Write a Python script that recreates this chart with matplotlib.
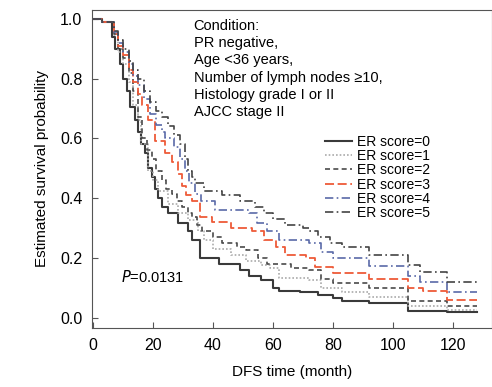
import matplotlib.pyplot as plt

t0 = [0, 3, 6.2, 7.3, 9, 10, 11.2, 12.3, 14, 15, 16, 17.3, 18.5, 19.6, 20.7, 21.7, 23, 25, 28.3, 31.7, 33, 35.7, 42, 49, 52, 56, 60, 62, 69, 75, 80, 83, 92, 105, 118, 128]
s0 = [1.0, 0.99, 0.94, 0.90, 0.85, 0.80, 0.76, 0.705, 0.66, 0.62, 0.58, 0.55, 0.50, 0.47, 0.43, 0.40, 0.37, 0.35, 0.315, 0.29, 0.26, 0.20, 0.18, 0.158, 0.14, 0.124, 0.10, 0.09, 0.085, 0.075, 0.065, 0.057, 0.047, 0.023, 0.018, 0.018]

t1 = [0, 3, 7, 8.5, 10, 12, 13.5, 15, 16, 18.3, 20, 21.7, 25, 28.3, 31.7, 35, 37, 40, 46, 51, 56, 59, 62, 72, 76, 83, 92, 105, 118, 128]
s1 = [1.0, 0.99, 0.945, 0.89, 0.85, 0.79, 0.71, 0.66, 0.58, 0.49, 0.46, 0.425, 0.38, 0.35, 0.325, 0.29, 0.26, 0.23, 0.21, 0.19, 0.175, 0.165, 0.134, 0.124, 0.10, 0.085, 0.068, 0.04, 0.026, 0.026]

t2 = [0, 3, 7, 8.5, 10, 12, 13.5, 15, 16.3, 18, 19.6, 21, 23, 24.5, 26.3, 28, 29.7, 31.5, 33, 34.5, 36.3, 40, 43, 48, 51, 55, 58, 66, 72, 76, 80, 83, 92, 105, 118, 128]
s2 = [1.0, 0.99, 0.95, 0.90, 0.87, 0.82, 0.76, 0.67, 0.60, 0.56, 0.53, 0.49, 0.46, 0.43, 0.415, 0.39, 0.37, 0.35, 0.335, 0.31, 0.29, 0.27, 0.25, 0.235, 0.225, 0.20, 0.18, 0.165, 0.158, 0.13, 0.117, 0.114, 0.10, 0.057, 0.04, 0.04]

t3 = [0, 3, 7, 8.5, 10, 12, 13.5, 15, 16.5, 18.3, 20.7, 24, 26.3, 28.3, 29.6, 31, 33, 35.7, 39.7, 46, 53, 57, 61, 64, 71, 74, 80, 92, 105, 110, 118, 128]
s3 = [1.0, 0.99, 0.95, 0.91, 0.88, 0.83, 0.79, 0.75, 0.71, 0.66, 0.59, 0.55, 0.52, 0.48, 0.44, 0.41, 0.39, 0.335, 0.32, 0.30, 0.29, 0.26, 0.235, 0.21, 0.20, 0.17, 0.148, 0.13, 0.10, 0.088, 0.059, 0.059]

t4 = [0, 3, 7, 8.5, 10, 12, 13.5, 15, 17, 19, 21, 23, 24, 27, 29, 30.5, 32, 34, 36, 40.7, 52, 54.7, 58, 62, 72, 76, 80, 92, 105, 109, 118, 128]
s4 = [1.0, 0.99, 0.955, 0.92, 0.89, 0.85, 0.81, 0.78, 0.73, 0.68, 0.645, 0.62, 0.60, 0.57, 0.53, 0.49, 0.45, 0.415, 0.39, 0.36, 0.35, 0.315, 0.29, 0.26, 0.25, 0.22, 0.198, 0.172, 0.14, 0.118, 0.085, 0.085]

t5 = [0, 3, 7, 8.5, 10, 12, 13.5, 15, 17, 19, 21, 23, 25, 27, 29, 30.5, 31.7, 33, 34, 37, 43, 49, 54, 57, 60, 64, 70, 72, 75, 79, 83, 92, 105, 109, 118, 128]
s5 = [1.0, 0.99, 0.96, 0.93, 0.90, 0.86, 0.83, 0.80, 0.76, 0.72, 0.69, 0.67, 0.64, 0.61, 0.58, 0.53, 0.49, 0.47, 0.45, 0.425, 0.41, 0.39, 0.37, 0.35, 0.33, 0.31, 0.30, 0.29, 0.27, 0.25, 0.235, 0.21, 0.175, 0.152, 0.118, 0.118]

labels = ['ER score=0', 'ER score=1', 'ER score=2', 'ER score=3', 'ER score=4', 'ER score=5']

plt.rcParams['font.family'] = ['Liberation Sans', 'DejaVu Sans']
fig = plt.figure(figsize=(4.92, 3.87), dpi=100)
ax = fig.add_axes([0.187, 0.1525, 0.812, 0.822])

ax.plot(t0, s0, drawstyle='steps-post', color='#3a3a3a', lw=1.5, label=labels[0])
ax.plot(t1, s1, drawstyle='steps-post', color='#aaaaaa', lw=1.2, dashes=(1, 1.2), label=labels[1])
ax.plot(t2, s2, drawstyle='steps-post', color='#4a4a4a', lw=1.2, dashes=(3, 2), label=labels[2])
ax.plot(t3, s3, drawstyle='steps-post', color='#ee5a38', lw=1.3, dashes=(5, 2), label=labels[3])
ax.plot(t4, s4, drawstyle='steps-post', color='#5a6aa8', lw=1.2, dashes=(5, 2, 1, 2), label=labels[4])
ax.plot(t5, s5, drawstyle='steps-post', color='#444444', lw=1.2, dashes=(5, 2, 1, 2), label=labels[5])

ax.set_xlim(-0.3, 132.7)
ax.set_ylim(-0.035, 1.03)
ax.set_xticks([0, 20, 40, 60, 80, 100, 120])
ax.set_yticks([0.0, 0.2, 0.4, 0.6, 0.8, 1.0])
ax.set_yticklabels(['0.0', '0.2', '0.4', '0.6', '0.8', '1.0'])
ax.tick_params(direction='in', labelsize=11.5, length=4, color='#555555')
ax.tick_params(axis='x', pad=7)
ax.tick_params(axis='y', pad=7)
for sp in ax.spines.values():
    sp.set_color('#555555')
ax.set_xlabel('DFS time (month)', fontsize=11, labelpad=9)
ax.set_ylabel('Estimated survival probability', fontsize=11, labelpad=8)

ax.text(33.5, 1.0, 'Condition:\nPR negative,\nAge <36 years,\nNumber of lymph nodes \u226510,\nHistology grade I or II\nAJCC stage II',
        fontsize=10.5, va='top', ha='left', linespacing=1.3)
ax.text(9.3, 0.137, r'$\it{P}$=0.0131', fontsize=10.5, va='center')

ax.legend(loc='upper left', bbox_to_anchor=(0.56, 0.638), frameon=False, fontsize=10,
          handlelength=1.9, labelspacing=0.02, handletextpad=0.35, borderpad=0.2)

fig.savefig('out.png', dpi=100)
